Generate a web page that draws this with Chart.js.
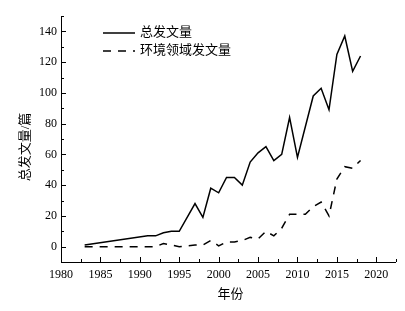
<!DOCTYPE html>
<html><head><meta charset="utf-8">
<script src="https://cdn.jsdelivr.net/npm/chart.js@4/dist/chart.umd.min.js"></script>
<style>html,body{margin:0;padding:0;background:#fff}#wrap{width:405px;height:311px}</style>
</head><body><div id="wrap"><canvas id="c" width="405" height="311"></canvas></div>
<script>
const seriesNames = ['总发文量', '环境领域发文量'];
const totalYears  = [1983,1991,1992,1993,1994,1995,1997,1998,1999,2000,2001,2002,2003,2004,2005,2006,2007,2008,2009,2010,2012,2013,2014,2015,2016,2017,2018];
const totalValues = [1,7,7,9,10,10,28,19,38,35,45,45,40,55,61,65,56,60,84,58,98,103,89,125,137,114,124];
const envYears  = [1983,1992,1993,1995,1997,1998,1999,2000,2001,2002,2003,2004,2005,2006,2007,2008,2009,2010,2011,2012,2013,2014,2015,2016,2017,2018];
const envValues = [0,0,2,0,1,1,4,0.5,3,3,4,6,5,10,7,12,21,21,21,26,29,20,44,52,51,56];
const xTickLabels = [1980,1985,1990,1995,2000,2005,2010,2015,2020];
const yTickLabels = [0,20,40,60,80,100,120,140];
const xTitle = '年份';
const yTitle = '总发文量/篇';

const FONT_FAMILY = "'Liberation Serif','Times New Roman','Noto Sans CJK SC',serif";

function pts(xs, ys){ return xs.map((x,i)=>({x:x, y:ys[i]})); }

const decor = {
  id: 'decor',
  afterDraw(chart){
    const ctx = chart.ctx, xs = chart.scales.x, ys = chart.scales.y, ca = chart.chartArea;
    ctx.save();
    ctx.strokeStyle = '#000'; ctx.lineWidth = 1;
    ctx.beginPath();
    ctx.moveTo(ca.left+0.5, ca.top); ctx.lineTo(ca.left+0.5, ca.bottom+0.5);
    ctx.lineTo(ca.right, ca.bottom+0.5);
    ctx.stroke();
    ctx.beginPath();
    for (let v = xs.min; v <= xs.max + 1e-6; v += 2.5){
      const px = Math.round(xs.getPixelForValue(v)) + 0.5;
      const major = Math.abs(v % 5) < 1e-6;
      ctx.moveTo(px, ca.bottom); ctx.lineTo(px, ca.bottom - (major ? 5 : 3));
    }
    for (let v = ys.min; v <= ys.max + 1e-6; v += 10){
      const py = Math.round(ys.getPixelForValue(v)) + 0.5;
      const major = Math.abs(v % 20) < 1e-6;
      ctx.moveTo(ca.left, py); ctx.lineTo(ca.left + (major ? 5 : 3), py);
    }
    ctx.stroke();
    ctx.font = "13px " + FONT_FAMILY;
    ctx.fillStyle = '#000';
    ctx.textBaseline = 'middle';
    const ds = chart.data.datasets;
    const rows = [33, 51];
    ds.forEach((d,i)=>{
      ctx.beginPath();
      ctx.lineWidth = d.borderWidth;
      ctx.setLineDash(d.borderDash || []);
      ctx.moveTo(103, rows[i]); ctx.lineTo(135, rows[i]);
      ctx.stroke();
      ctx.setLineDash([]);
      ctx.textAlign = 'left';
      ctx.fillText(d.label, 140, rows[i]);
    });
    ctx.textAlign = 'center';
    ctx.fillText(xTitle, (ca.left+ca.right)/2 + 2, 295);
    ctx.translate(26, 147);
    ctx.rotate(-Math.PI/2);
    ctx.fillText(yTitle, 0, 0);
    ctx.restore();
  }
};

new Chart(document.getElementById('c'), {
  type: 'line',
  data: {
    datasets: [
      { label: seriesNames[0], data: pts(totalYears, totalValues), borderColor: '#000', borderWidth: 1.5, pointRadius: 0, tension: 0, fill: false },
      { label: seriesNames[1], data: pts(envYears, envValues), borderColor: '#000', borderWidth: 1.5, borderDash: [8,7], pointRadius: 0, tension: 0, fill: false }
    ]
  },
  options: {
    responsive: false, devicePixelRatio: 1, animation: false,
    layout: { padding: { top: 16, right: 9, left: 0, bottom: 0 } },
    plugins: { legend: { display: false }, tooltip: { enabled: false } },
    scales: {
      x: {
        type: 'linear', min: 1980, max: 2022.5,
        grid: { display: false, drawTicks: false }, border: { display: false },
        afterBuildTicks: s => { s.ticks = xTickLabels.map(v => ({ value: v })); },
        afterFit: s => { s.height = 49; },
        ticks: { color: '#000', font: { family: FONT_FAMILY, size: 12 }, padding: 6, maxRotation: 0, autoSkip: false, callback: v => String(v) }
      },
      y: {
        type: 'linear', min: -10, max: 150,
        grid: { display: false, drawTicks: false }, border: { display: false },
        afterBuildTicks: s => { s.ticks = yTickLabels.map(v => ({ value: v })); },
        afterFit: s => { s.width = 61; },
        ticks: { color: '#000', font: { family: FONT_FAMILY, size: 12 }, padding: 4, autoSkip: false }
      }
    }
  },
  plugins: [decor]
});
</script>
</body></html>
